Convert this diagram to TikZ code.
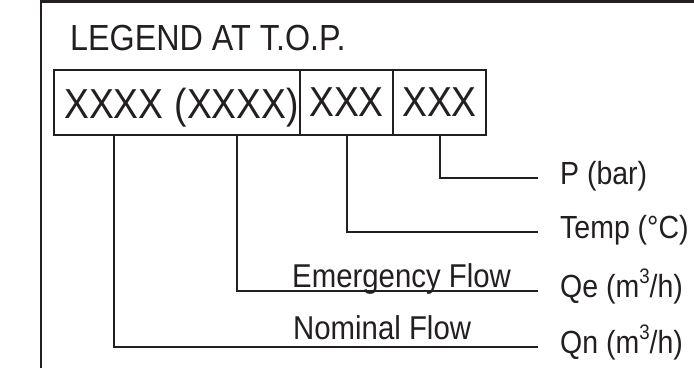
\documentclass[tikz,border=0pt]{standalone}
\usepackage{fontspec}
\setmainfont{Liberation Sans}[FakeStretch=0.89]
\usepackage{tikz}
\usetikzlibrary{positioning}
\definecolor{legendink}{RGB}{35,31,32}
\newcommand{\cubed}{\raisebox{0.42em}{\fontsize{21}{22}\selectfont 3}}
\tikzset{
  frameline/.style={draw=legendink, line width=2.4pt},
  cell/.style={draw=legendink, line width=2pt, inner sep=0pt, outer sep=0pt, minimum height=65pt, text=legendink, font=\fontsize{41.9}{44}\selectfont},
  celltxt/.style={inner sep=0pt, text=legendink, font=\fontsize{41.9}{44}\selectfont},
  titletxt/.style={inner sep=0pt, text=legendink, font=\fontsize{36.3}{40}\selectfont},
  flowtxt/.style={inner sep=0pt, text=legendink, font=\fontsize{33}{36}\selectfont},
  unitlbl/.style={inner sep=0pt, anchor=west, text height=17pt, text depth=5pt, text=legendink, font=\fontsize{32}{35}\selectfont},
  leader/.style={draw=legendink, line width=2pt, shorten >=22pt},
}

\begin{document}
\begin{tikzpicture}[x=1pt, y=-1pt]
    \useasboundingbox (0,0) rectangle (694,368);
    \draw[frameline] (41,368) |- (694,1.5);
    \node[titletxt, anchor=base west] (title) at (70,50) {LEGEND AT T.O.P.};
    % code boxes
    \node[cell, minimum width=246pt] (box1) at (177,102.5) {};
    \node[cell, minimum width=93pt, right=0pt of box1] (box2) {XXX};
    \node[cell, minimum width=93pt, right=0pt of box2] (box3) {XXX};
    \node[celltxt, anchor=base west] (nomx) at (64,118) {XXXX};
    \node[celltxt, base right=10.5pt of nomx] (emgx) {(XXXX)};
    % units
    \node[unitlbl] (p) at (560,178) {P (bar)};
    \node[unitlbl] (temp) at (560,232) {Temp (°C)};
    \node[unitlbl] (qe) at (560,291) {Qe (m\cubed/h)};
    \node[unitlbl] (qn) at (560,347) {Qn (m\cubed/h)};
    \node[flowtxt, anchor=base west] (emgflow) at (292,287) {Emergency Flow};
    \node[flowtxt, anchor=base west] (nomflow) at (293,339) {Nominal Flow};
    \draw[leader] (box3.south) |- (p.west);
    \draw[leader] (box2.south) |- (temp.west);
    \draw[leader] (emgx |- box1.south) |- (qe.west);
    \draw[leader] (nomx |- box1.south) |- (qn.west);
  \end{tikzpicture}
\end{document}
